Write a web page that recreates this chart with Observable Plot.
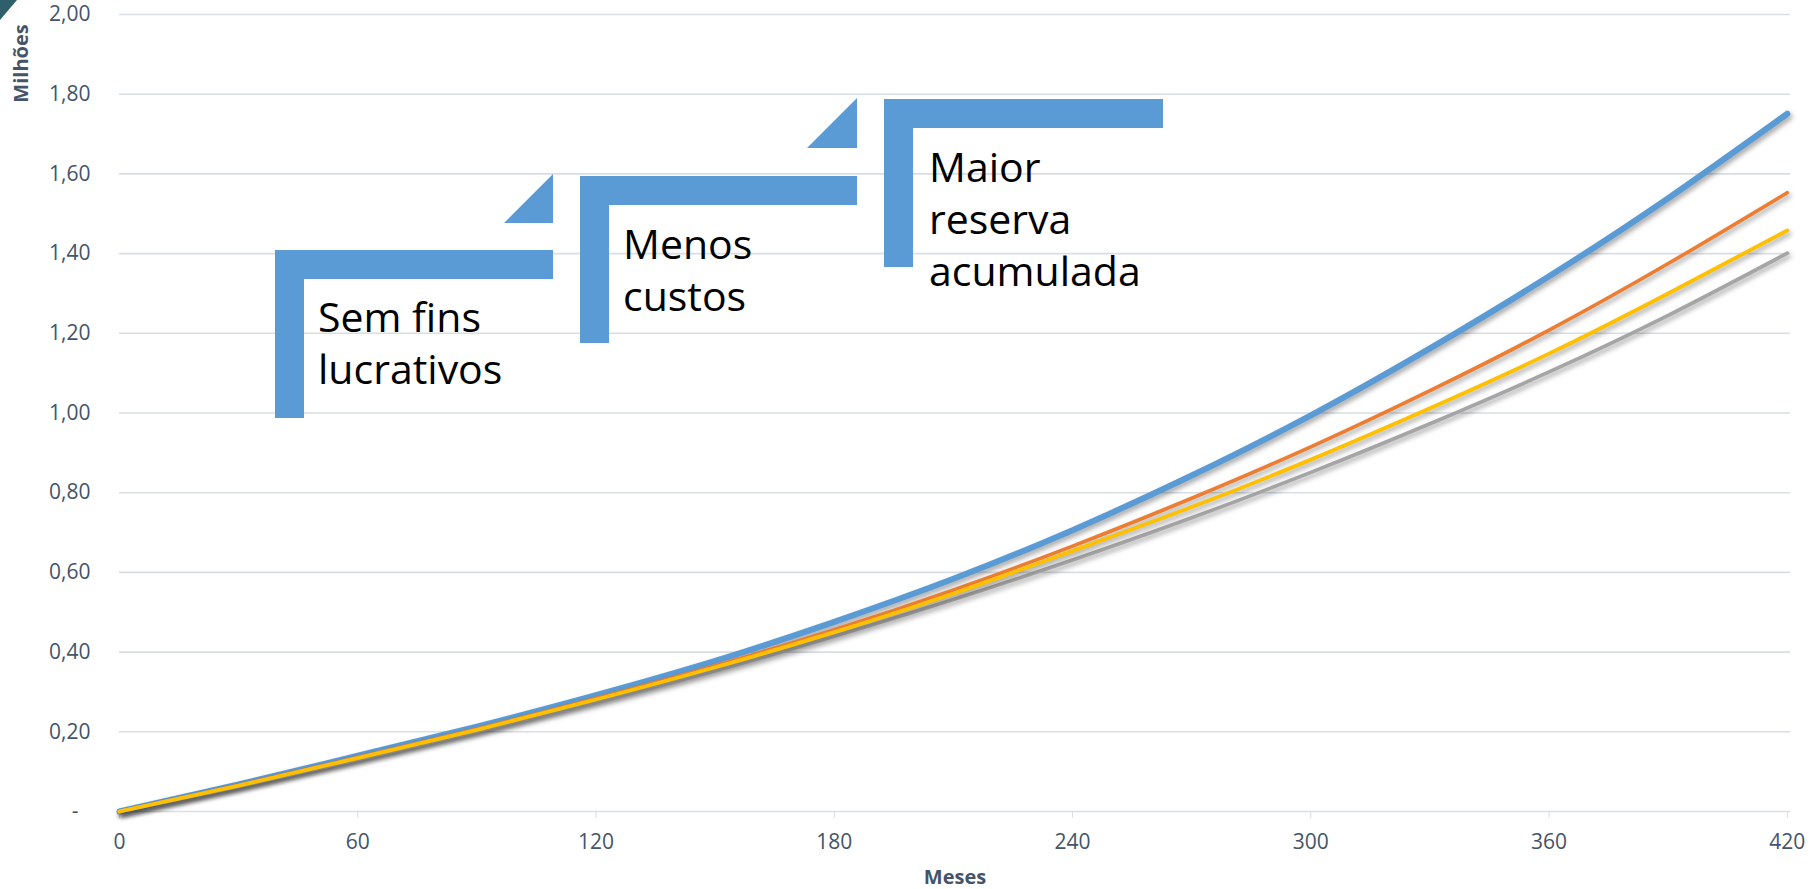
<!DOCTYPE html>
<html>
<head>
<meta charset="utf-8">
<script src="https://cdn.jsdelivr.net/npm/d3@7"></script>
<script src="https://cdn.jsdelivr.net/npm/@observablehq/plot@0.6"></script>
<style>
  html, body { margin: 0; padding: 0; background: #fff; overflow: hidden; }
  #wrap { position: relative; width: 1814px; height: 889px; }
  #wrap > svg.plot { position: absolute; left: 0; top: 0; }
  #overlay { position: absolute; left: 0; top: 0; pointer-events: none; }
  .series path { filter: drop-shadow(2px 3px 2.5px rgba(0,0,0,0.35)); }
  #corner { position: absolute; left: 0; top: 0; width: 18px; height: 21px;
            background: #2f5f6a; clip-path: polygon(0 0, 17px 0, 0 20px); }
</style>
</head>
<body>
<div id="wrap"><div id="corner"></div></div>
<script>
// ---- data ----
const months = [0, 30, 60, 90, 120, 150, 180, 210, 240, 270, 300, 330, 360, 390, 420];
const seriesNames = ["Série 1", "Série 2", "Série 3", "Série 4"];
const serie1 = [0, 0.068, 0.140, 0.213, 0.292, 0.378, 0.476, 0.584, 0.706, 0.843, 0.994, 1.162, 1.343, 1.539, 1.751];
const serie2 = [0, 0.066, 0.136, 0.207, 0.284, 0.366, 0.456, 0.556, 0.666, 0.786, 0.915, 1.056, 1.208, 1.375, 1.553];
const serie3 = [0, 0.065, 0.134, 0.205, 0.281, 0.362, 0.450, 0.547, 0.654, 0.764, 0.883, 1.012, 1.149, 1.300, 1.458];
const serie4 = [0, 0.063, 0.130, 0.200, 0.274, 0.353, 0.440, 0.532, 0.631, 0.737, 0.851, 0.973, 1.103, 1.245, 1.401];
const xTicks = [0, 60, 120, 180, 240, 300, 360, 420];
const yTicks = [0, 0.2, 0.4, 0.6, 0.8, 1.0, 1.2, 1.4, 1.6, 1.8, 2.0];
const xLabel = "Meses";
const yLabel = "Milhões";
const callouts = [
  ["Sem fins", "lucrativos"],
  ["Menos", "custos"],
  ["Maior", "reserva", "acumulada"]
];

// ---- styles ----
const colors = {"Série 1": "#5b9bd5", "Série 2": "#ed7d31", "Série 3": "#ffc000", "Série 4": "#a5a5a5"};
const widths = {"Série 1": 6, "Série 2": 3.6, "Série 3": 3.8, "Série 4": 3.6};
const drawOrder = ["Série 1", "Série 2", "Série 4", "Série 3"];
const font = "'Open Sans', Lato, sans-serif";

const allSeries = [serie1, serie2, serie3, serie4];
const rows = seriesNames.flatMap((name, i) =>
  months.map((m, j) => ({serie: name, mes: m, valor: allSeries[i][j]}))
);

const textColor = "#44546a";
const gridColor = "#d9dee5";

const lineMarks = drawOrder.map(name =>
  Plot.line(rows.filter(r => r.serie === name), {
    x: "mes", y: "valor", stroke: colors[name], strokeWidth: widths[name],
    curve: "natural", strokeLinecap: "round", strokeLinejoin: "round",
    className: "series"
  })
);

const chart = Plot.plot({
  width: 1814,
  height: 889,
  marginLeft: 119,
  marginRight: 24,
  marginTop: 14,
  marginBottom: 78,
  style: {fontFamily: font, fontSize: "21px", color: textColor, background: "transparent"},
  x: {domain: [0, 420.8], label: null},
  y: {domain: [0, 2], label: null},
  marks: [
    Plot.ruleY(yTicks, {stroke: gridColor, strokeWidth: 1.6}),
    Plot.axisX({ticks: xTicks, tickSize: 7, tickPadding: 16, stroke: gridColor, fill: textColor,
                tickFormat: d => String(d), label: null}),
    Plot.axisY({ticks: yTicks, tickSize: 0, tickPadding: 29, fill: textColor, label: null,
                tickFormat: d => d === 0 ? "-\u2007" : d.toFixed(2).replace(".", ",")}),
    ...lineMarks,
    Plot.text([xLabel], {frameAnchor: "bottom", text: d => d, dy: 66, fontWeight: "bold",
                         fontSize: 20, fill: textColor, lineAnchor: "middle", textAnchor: "middle"}),
    Plot.text([yLabel], {frameAnchor: "top-left", text: d => d, dx: -98, dy: 49, rotate: -90,
                         fontWeight: "bold", fontSize: 20, fill: textColor,
                         lineAnchor: "middle", textAnchor: "middle"})
  ]
});
chart.classList.add("plot");
document.getElementById("wrap").appendChild(chart);

// ---- callout decorations (bracket shapes with text) ----
const ns = "http://www.w3.org/2000/svg";
const ov = document.createElementNS(ns, "svg");
ov.setAttribute("id", "overlay");
ov.setAttribute("width", 1814);
ov.setAttribute("height", 889);
const shapes = [
  {x: 275, y: 250, w: 278, t: 29, v: 29, h: 168, tri: [[504, 223], [553, 223], [553, 174]], tx: 318, ty: 332},
  {x: 580, y: 176, w: 277, t: 29, v: 29, h: 167, tri: [[807, 148], [857, 148], [857, 98]], tx: 623, ty: 259},
  {x: 884, y: 99, w: 279, t: 29, v: 29, h: 168, tri: null, tx: 929, ty: 182}
];
const blue = "#5b9bd5";
shapes.forEach((s, i) => {
  const r1 = document.createElementNS(ns, "rect");
  r1.setAttribute("x", s.x); r1.setAttribute("y", s.y);
  r1.setAttribute("width", s.w); r1.setAttribute("height", s.t);
  r1.setAttribute("fill", blue);
  ov.appendChild(r1);
  const r2 = document.createElementNS(ns, "rect");
  r2.setAttribute("x", s.x); r2.setAttribute("y", s.y);
  r2.setAttribute("width", s.v); r2.setAttribute("height", s.h);
  r2.setAttribute("fill", blue);
  ov.appendChild(r2);
  if (s.tri) {
    const p = document.createElementNS(ns, "polygon");
    p.setAttribute("points", s.tri.map(q => q.join(",")).join(" "));
    p.setAttribute("fill", blue);
    ov.appendChild(p);
  }
  callouts[i].forEach((line, k) => {
    const t = document.createElementNS(ns, "text");
    t.setAttribute("x", s.tx);
    t.setAttribute("y", s.ty + k * 52);
    t.setAttribute("font-family", font);
    t.setAttribute("font-size", 41);
    t.setAttribute("fill", "#000");
    t.textContent = line;
    ov.appendChild(t);
  });
});
document.getElementById("wrap").appendChild(ov);
</script>
</body>
</html>
